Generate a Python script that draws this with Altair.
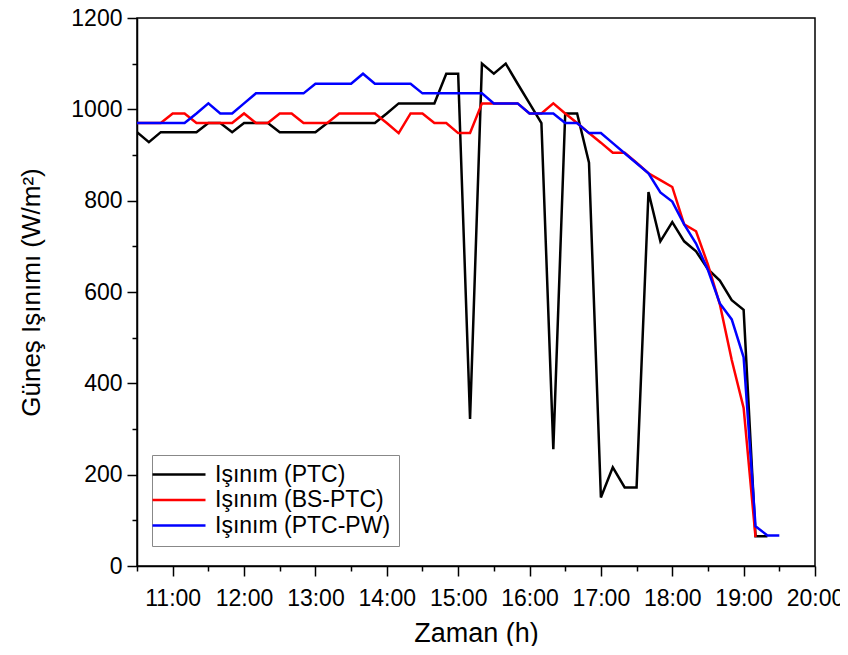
import altair as alt
import pandas as pd

# ---- data ----
times = ["10:30", "10:40", "10:50", "11:00", "11:10", "11:20", "11:30", "11:40", "11:50",
         "12:00", "12:10", "12:20", "12:30", "12:40", "12:50", "13:00", "13:10", "13:20",
         "13:30", "13:40", "13:50", "14:00", "14:10", "14:20", "14:30", "14:40", "14:50",
         "15:00", "15:10", "15:20", "15:30", "15:40", "15:50", "16:00", "16:10", "16:20",
         "16:30", "16:40", "16:50", "17:00", "17:10", "17:20", "17:30", "17:40", "17:50",
         "18:00", "18:10", "18:20", "18:30", "18:40", "18:50", "19:00", "19:10", "19:20",
         "19:30"]

ptc = [950, 928, 950, 950, 950, 950, 970, 970, 950, 970, 970, 970, 950, 950, 950, 950,
       970, 970, 970, 970, 970, 991, 1013, 1013, 1013, 1013, 1078, 1078, 322, 1100, 1078,
       1100, 1056, 1013, 970, 256, 991, 991, 883, 150, 216, 172, 172, 819, 711, 753, 711,
       689, 650, 625, 582, 561, 65, 65]

bs_ptc = [970, 970, 970, 991, 991, 970, 970, 970, 970, 991, 970, 970, 991, 991, 970, 970,
          970, 991, 991, 991, 991, 970, 948, 991, 991, 970, 970, 948, 948, 1013, 1013, 1013,
          1013, 991, 991, 1013, 991, 970, 948, 927, 905, 905, 883, 860, 845, 830, 748, 733,
          660, 573, 451, 346, 63]

ptc_pw = [970, 970, 970, 970, 970, 991, 1013, 991, 991, 1013, 1035, 1035, 1035, 1035, 1035,
          1056, 1056, 1056, 1056, 1078, 1056, 1056, 1056, 1056, 1035, 1035, 1035, 1035, 1035,
          1035, 1013, 1013, 1013, 991, 991, 991, 970, 970, 948, 948, 926, 904, 882, 860, 818,
          798, 748, 706, 648, 575, 540, 457, 87, 67, 67]

series_names = ["Işınım (PTC)", "Işınım (BS-PTC)", "Işınım (PTC-PW)"]
series_colors = ["#000000", "#ff0000", "#0000ff"]
x_major = [11, 12, 13, 14, 15, 16, 17, 18, 19, 20]
x_minor = [10.5, 11.5, 12.5, 13.5, 14.5, 15.5, 16.5, 17.5, 18.5, 19.5]
y_major = [0, 200, 400, 600, 800, 1000, 1200]
y_minor = [100, 300, 500, 700, 900, 1100]


def to_hours(s):
    h, m = s.split(":")
    return int(h) + int(m) / 60.0


rows = []
for name, vals in zip(series_names, [ptc, bs_ptc, ptc_pw]):
    for t, v in zip(times, vals):
        rows.append({"t": to_hours(t), "v": v, "series": name})
df = pd.DataFrame(rows)

FONT = "Liberation Sans"

x_scale = alt.Scale(domain=[10.5, 20], nice=False, zero=False)
y_scale = alt.Scale(domain=[0, 1200], nice=False, zero=False)
color_scale = alt.Scale(domain=series_names, range=series_colors)

x_axis = alt.Axis(values=x_major, labelExpr="datum.value + ':00'", tickSize=10,
                  tickWidth=1.5, tickColor="black", domainColor="black", domainWidth=1.5,
                  labelFont=FONT, labelFontSize=23, labelColor="black", labelPadding=11,
                  labelFlush=False, labelOverlap=False, title="Zaman (h)",
                  titleFont=FONT, titleFontSize=27, titleFontWeight="normal",
                  titleColor="black", titlePadding=10, grid=False)
y_axis = alt.Axis(values=y_major, format="d", tickSize=10, tickWidth=1.5, tickColor="black",
                  domainColor="black", domainWidth=1.5, labelFont=FONT, labelFontSize=23,
                  labelColor="black", labelPadding=5, labelFlush=False,
                  title="Güneş Işınımı (W/m²)", titleFont=FONT, titleFontSize=26,
                  titleFontWeight="normal", titleColor="black", titlePadding=26, grid=False)

legend = alt.Legend(orient="none", legendX=15, legendY=437, title=None,
                    symbolType="M-3.8,0H6.8", symbolSize=100, symbolStrokeWidth=2.5,
                    labelFont=FONT, labelFontSize=23, labelColor="black", labelOffset=32,
                    labelLimit=0, padding=8, rowPadding=1.5, strokeColor="#888888",
                    fillColor="white", cornerRadius=0)


def series_layer(name, axes):
    return alt.Chart(df).transform_filter(alt.datum.series == name).mark_line(
        strokeWidth=2.5, clip=True
    ).encode(
        x=alt.X("t:Q", scale=x_scale, axis=x_axis if axes else None),
        y=alt.Y("v:Q", scale=y_scale, axis=y_axis if axes else None),
        color=alt.Color("series:N", scale=color_scale, legend=legend if axes else None),
    )


minor = alt.Chart(df).mark_line(opacity=0).encode(
    x=alt.X("t:Q", scale=x_scale,
            axis=alt.Axis(orient="bottom", values=x_minor, tickSize=5, tickWidth=1.5,
                          tickColor="black", labels=False, domain=False, grid=False,
                          title=None)),
    y=alt.Y("v:Q", scale=y_scale,
            axis=alt.Axis(orient="left", values=y_minor, tickSize=5, tickWidth=1.5,
                          tickColor="black", labels=False, domain=False, grid=False,
                          title=None)),
)

chart = alt.layer(
    series_layer(series_names[0], True),
    series_layer(series_names[1], False),
    series_layer(series_names[2], False),
    minor,
).resolve_axis(x="independent", y="independent").properties(
    width=678, height=548,
    autosize=alt.AutoSizeParams(type="none"),
    padding={"left": 129, "top": 10, "right": 25, "bottom": 80},
).configure_view(stroke="black", strokeWidth=1.5)

chart.save("out.html", embed_options={"renderer": "svg", "actions": False})
